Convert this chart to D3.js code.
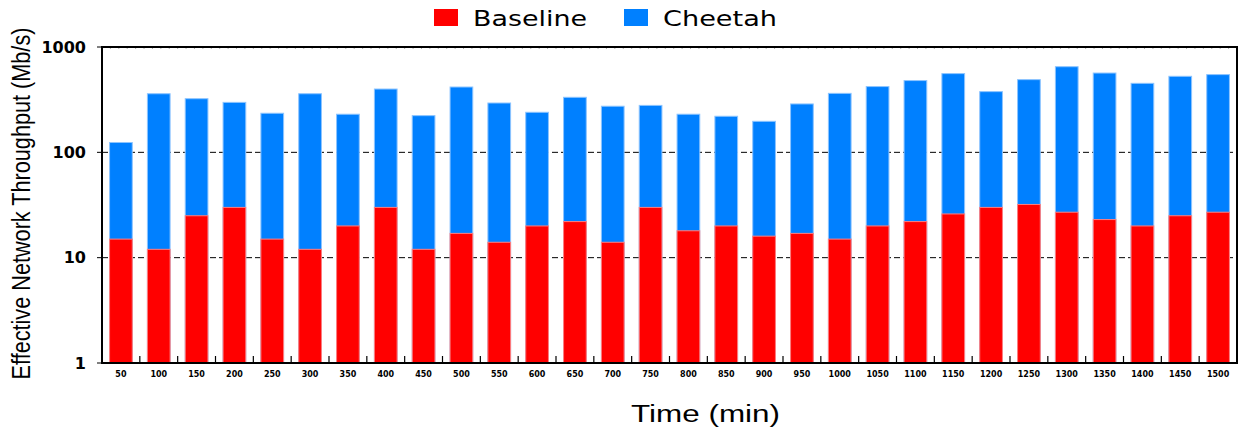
<!DOCTYPE html>
<html>
<head>
<meta charset="utf-8">
<script src="https://cdn.jsdelivr.net/npm/d3@7"></script>
<style>
  body { margin: 0; background: #fff; }
  svg { display: block; }
</style>
</head>
<body>
<svg id="chart" width="1239" height="432"></svg>
<script>
// time in minutes
var times = [50, 100, 150, 200, 250, 300, 350, 400, 450, 500, 550, 600, 650, 700, 750,
             800, 850, 900, 950, 1000, 1050, 1100, 1150, 1200, 1250, 1300, 1350, 1400, 1450, 1500];
// throughput (Mb/s)
var baseline = [15, 12, 25, 30, 15, 12, 20, 30, 12, 17, 14, 20, 22, 14, 30,
                18, 20, 16, 17, 15, 20, 22, 26, 30, 32, 27, 23, 20, 25, 27];
var cheetah = [124, 360, 323, 298, 235, 360, 230, 399, 223, 417, 294, 240, 333, 274, 279,
               230, 220, 197, 288, 363, 421, 480, 559, 377, 490, 650, 566, 452, 527, 547];
var yTicks = [1, 10, 100, 1000];
var seriesNames = ["Baseline", "Cheetah"];
var seriesColors = ["#ff0000", "#0080ff"];
var seriesStroke = ["#ff7f7f", "#8cc4ff"];

var svg = d3.select("#chart");
var margin = {left: 102, right: 2, top: 47, bottom: 69};
var width = +svg.attr("width");
var height = +svg.attr("height");

var x = d3.scaleBand()
    .domain(times)
    .range([margin.left, width - margin.right])
    .paddingInner(0.4)
    .paddingOuter(0.2);

var y = d3.scaleLog()
    .domain([1, 1000])
    .range([height - margin.bottom, margin.top]);

// dashed grid lines
svg.append("g")
    .selectAll("line")
    .data(yTicks.slice(1, -1))
    .join("line")
    .attr("x1", margin.left)
    .attr("x2", width - margin.right)
    .attr("y1", d => y(d))
    .attr("y2", d => y(d))
    .attr("stroke", "#000")
    .attr("stroke-width", 1)
    .attr("stroke-dasharray", "6,3");

// bars: cheetah total first, baseline over it
var bars = svg.append("g");
bars.selectAll("rect.cheetah")
    .data(times)
    .join("rect")
    .attr("class", "cheetah")
    .attr("x", d => x(d))
    .attr("width", x.bandwidth())
    .attr("y", (d, i) => y(cheetah[i]))
    .attr("height", (d, i) => y(1) - y(cheetah[i]))
    .attr("fill", seriesColors[1])
    .attr("stroke", seriesStroke[1])
    .attr("stroke-width", 1);

bars.selectAll("rect.baseline")
    .data(times)
    .join("rect")
    .attr("class", "baseline")
    .attr("x", d => x(d))
    .attr("width", x.bandwidth())
    .attr("y", (d, i) => y(baseline[i]))
    .attr("height", (d, i) => y(1) - y(baseline[i]))
    .attr("fill", seriesColors[0])
    .attr("stroke", seriesStroke[0])
    .attr("stroke-width", 1);

// tiny ticks under the top border
var topScale = d3.scaleLinear().domain([0, 135]).range([margin.left, width - margin.right]);
svg.append("g")
    .selectAll("line")
    .data(d3.range(1, 135))
    .join("line")
    .attr("x1", d => topScale(d))
    .attr("x2", d => topScale(d))
    .attr("y1", margin.top)
    .attr("y2", margin.top + 2)
    .attr("stroke", "#999")
    .attr("stroke-width", 0.8);

// bottom ticks between bars
var half = x.step() * x.paddingInner() / 2;
svg.append("g")
    .selectAll("line")
    .data(times.slice(1))
    .join("line")
    .attr("x1", d => x(d) - half)
    .attr("x2", d => x(d) - half)
    .attr("y1", y(1))
    .attr("y2", y(1) - 7)
    .attr("stroke", "#000")
    .attr("stroke-width", 1.2);

// left ticks
svg.append("g")
    .selectAll("line")
    .data(yTicks)
    .join("line")
    .attr("x1", margin.left - 5)
    .attr("x2", margin.left)
    .attr("y1", d => y(d))
    .attr("y2", d => y(d))
    .attr("stroke", "#000")
    .attr("stroke-width", 1);

// frame
svg.append("rect")
    .attr("x", margin.left)
    .attr("y", margin.top)
    .attr("width", width - margin.right - margin.left)
    .attr("height", y(1) - margin.top)
    .attr("fill", "none")
    .attr("stroke", "#000")
    .attr("stroke-width", 2);

// y tick labels
svg.append("g")
    .selectAll("text")
    .data(yTicks)
    .join("text")
    .attr("x", 86)
    .attr("y", d => y(d))
    .attr("dy", "0.36em")
    .attr("text-anchor", "end")
    .attr("font-family", "DejaVu Sans")
    .attr("font-weight", "bold")
    .attr("font-size", 16)
    .text(d => d);

// x tick labels
svg.append("g")
    .selectAll("text")
    .data(times)
    .join("text")
    .attr("x", d => x(d) + x.bandwidth() / 2)
    .attr("y", 377)
    .attr("text-anchor", "middle")
    .attr("font-family", "DejaVu Sans")
    .attr("font-weight", "bold")
    .attr("font-size", 8)
    .text(d => d);

// axis titles (y title is a narrow face in the original, so squeeze it)
svg.append("text")
    .attr("transform", "translate(30,203.5) rotate(-90) scale(0.867,1)")
    .attr("text-anchor", "middle")
    .attr("font-family", "Liberation Sans")
    .attr("font-size", 25)
    .text("Effective Network Throughput (Mb/s)");

svg.append("text")
    .attr("x", 705.5)
    .attr("y", 421.5)
    .attr("text-anchor", "middle")
    .attr("font-family", "Liberation Sans")
    .attr("font-size", 23)
    .attr("textLength", 149)
    .attr("lengthAdjust", "spacingAndGlyphs")
    .text("Time (min)");

// legend
var legendX = [434, 624];
var legend = svg.append("g")
    .selectAll("g")
    .data(seriesNames)
    .join("g")
    .attr("transform", (d, i) => "translate(" + legendX[i] + ",9)");
legend.append("rect")
    .attr("width", 24)
    .attr("height", 17)
    .attr("fill", (d, i) => seriesColors[i]);
legend.append("text")
    .attr("x", 39)
    .attr("y", 16.5)
    .attr("font-family", "DejaVu Sans")
    .attr("font-size", 22)
    .attr("textLength", 114)
    .attr("lengthAdjust", "spacingAndGlyphs")
    .text(d => d);
</script>
</body>
</html>
